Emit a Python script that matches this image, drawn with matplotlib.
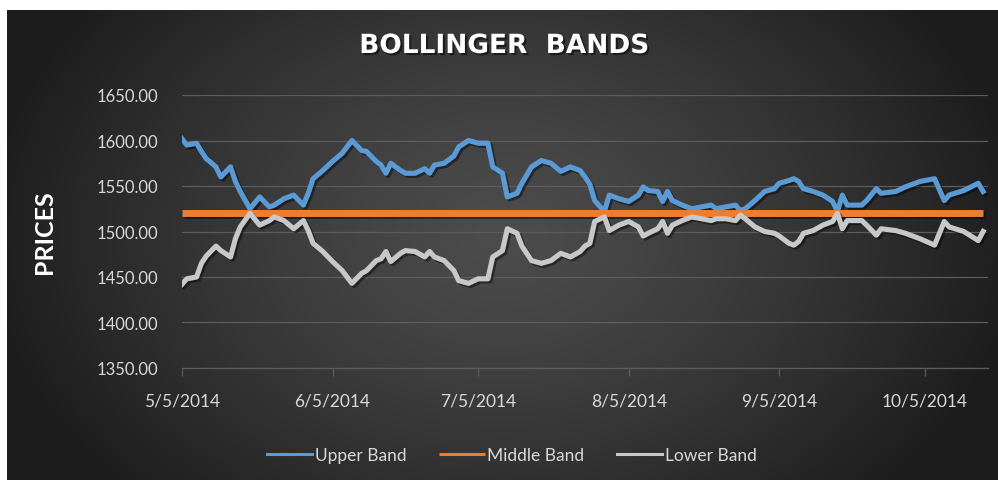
import numpy as np
import matplotlib
matplotlib.use("Agg")
import matplotlib.pyplot as plt
import matplotlib.patheffects as pe
import pandas as pd

plt.rcParams['font.family'] = ['Lato', 'DejaVu Sans']

dates = ["2014-05-05", "2014-05-06", "2014-05-08", "2014-05-09", "2014-05-10", "2014-05-12",
         "2014-05-13", "2014-05-15", "2014-05-16", "2014-05-17", "2014-05-19", "2014-05-21",
         "2014-05-23", "2014-05-24", "2014-05-26", "2014-05-28", "2014-05-30", "2014-05-31",
         "2014-06-01", "2014-06-03", "2014-06-05", "2014-06-07", "2014-06-09", "2014-06-11",
         "2014-06-12", "2014-06-14", "2014-06-15", "2014-06-16", "2014-06-17", "2014-06-19",
         "2014-06-20", "2014-06-22", "2014-06-24", "2014-06-25", "2014-06-26", "2014-06-28",
         "2014-06-30", "2014-07-01", "2014-07-03", "2014-07-05", "2014-07-07", "2014-07-08",
         "2014-07-10", "2014-07-11", "2014-07-13", "2014-07-14", "2014-07-16", "2014-07-18",
         "2014-07-20", "2014-07-22", "2014-07-24", "2014-07-26", "2014-07-27", "2014-07-28",
         "2014-07-29", "2014-07-31", "2014-08-01", "2014-08-03", "2014-08-05", "2014-08-07",
         "2014-08-08", "2014-08-09", "2014-08-11", "2014-08-12", "2014-08-13", "2014-08-14",
         "2014-08-16", "2014-08-18", "2014-08-20", "2014-08-22", "2014-08-23", "2014-08-25",
         "2014-08-27", "2014-08-28", "2014-08-29", "2014-08-31", "2014-09-02", "2014-09-04",
         "2014-09-05", "2014-09-07", "2014-09-08", "2014-09-09", "2014-09-10", "2014-09-12",
         "2014-09-14", "2014-09-16", "2014-09-17", "2014-09-18", "2014-09-19", "2014-09-22",
         "2014-09-23", "2014-09-25", "2014-09-26", "2014-09-29", "2014-10-01", "2014-10-04",
         "2014-10-07", "2014-10-09", "2014-10-10", "2014-10-13", "2014-10-16", "2014-10-17"]

upper_band = [1602, 1595, 1597, 1588, 1580, 1571,
              1560, 1571, 1555, 1544, 1525, 1538,
              1527, 1529, 1536, 1540, 1529, 1542,
              1558, 1567, 1577, 1586, 1600, 1589,
              1588, 1577, 1573, 1564, 1575, 1567,
              1564, 1564, 1569, 1564, 1573, 1575,
              1583, 1593, 1600, 1597, 1597, 1571,
              1564, 1538, 1542, 1553, 1571, 1578,
              1575, 1566, 1571, 1567, 1560, 1552,
              1534, 1522, 1540, 1536, 1533, 1540,
              1549, 1545, 1544, 1533, 1544, 1534,
              1529, 1525, 1527, 1529, 1525, 1527,
              1529, 1523, 1525, 1534, 1544, 1547,
              1553, 1556, 1558, 1555, 1547, 1544,
              1540, 1533, 1522, 1540, 1529, 1529,
              1534, 1547, 1542, 1544, 1549, 1555,
              1558, 1534, 1540, 1545, 1553, 1544]

lower_band = [1442, 1448, 1450, 1465, 1473, 1484,
              1479, 1472, 1492, 1505, 1520, 1507,
              1512, 1516, 1512, 1503, 1512, 1501,
              1487, 1478, 1467, 1457, 1443, 1454,
              1457, 1468, 1470, 1478, 1467, 1476,
              1479, 1478, 1472, 1478, 1472, 1468,
              1457, 1446, 1443, 1448, 1448, 1472,
              1479, 1503, 1498, 1484, 1468, 1465,
              1468, 1476, 1472, 1478, 1484, 1487,
              1511, 1516, 1501, 1507, 1511, 1505,
              1495, 1498, 1503, 1511, 1498, 1507,
              1512, 1516, 1514, 1512, 1514, 1514,
              1512, 1518, 1514, 1505, 1500, 1498,
              1495, 1487, 1485, 1489, 1498, 1501,
              1507, 1511, 1520, 1503, 1512, 1512,
              1507, 1496, 1503, 1501, 1498, 1492,
              1485, 1511, 1505, 1500, 1490, 1500]

middle_value = 1520.0
middle_band = [middle_value] * len(dates)

series_names = ["Upper Band", "Middle Band", "Lower Band"]
series_colors = ["#5B9BD5", "#ED7D31", "#C8C8C8"]

y_ticks = [1350, 1400, 1450, 1500, 1550, 1600, 1650]
x_tick_dates = ["2014-05-05", "2014-06-05", "2014-07-05", "2014-08-05", "2014-09-05", "2014-10-05"]
x_tick_labels = ["5/5/2014", "6/5/2014", "7/5/2014", "8/5/2014", "9/5/2014", "10/5/2014"]

W, H = 998, 481
fig = plt.figure(figsize=(W / 100, H / 100), dpi=100)
fig.patch.set_facecolor("white")

# background gradient panel
bx0, by_top = 7, 11
bg = fig.add_axes([bx0 / W, 0, 1 - bx0 / W, 1 - by_top / H])
bg.axis("off")
gx = np.linspace(-1, 1, 400)
gy = np.linspace(-1, 1, 200)
GX, GY = np.meshgrid(gx, gy)
r = np.sqrt(((GX - 0.0) / 1.05) ** 2 + ((GY + 0.05) / 1.6) ** 2)
r = np.clip(r, 0, 1)
c_center = np.array([0x4c, 0x4c, 0x4c]) / 255
c_edge = np.array([0x1d, 0x1d, 0x1d]) / 255
t = r ** 1.3
img = c_center[None, None, :] * (1 - t[..., None]) + c_edge[None, None, :] * t[..., None]
bg.imshow(img, aspect="auto", extent=[0, 1, 0, 1], interpolation="bilinear")
bg.set_xlim(0, 1)
bg.set_ylim(0, 1)

ax = fig.add_axes([182 / W, 1 - 369 / H, (988 - 182) / W, (369 - 96) / H])
ax.set_facecolor("none")

x = pd.to_datetime(dates)
shadow = [pe.SimpleLineShadow(offset=(1.5, -1.5), shadow_color="black", alpha=0.45), pe.Normal()]
ax.plot(x, upper_band, color=series_colors[0], lw=3.7, label=series_names[0],
        solid_joinstyle="round", path_effects=shadow, zorder=3)
ax.plot(x, middle_band, color=series_colors[1], lw=5.0, label=series_names[1],
        solid_capstyle="butt", path_effects=shadow, zorder=3)
ax.plot(x, lower_band, color=series_colors[2], lw=3.7, label=series_names[2],
        solid_joinstyle="round", path_effects=shadow, zorder=3)

ax.set_ylim(1350, 1650)
ax.set_yticks(y_ticks)
ax.set_yticklabels([f"{v:.2f}" for v in y_ticks])
ax.set_xlim(pd.Timestamp("2014-05-05"), pd.Timestamp("2014-10-18"))
ax.set_xticks(pd.to_datetime(x_tick_dates))
ax.set_xticklabels(x_tick_labels)

ax.grid(axis="y", color="#5c5c5c", lw=0.9)
ax.set_axisbelow(True)
for s in ["top", "right", "left"]:
    ax.spines[s].set_visible(False)
ax.spines["bottom"].set_color("#5c5c5c")
ax.spines["bottom"].set_linewidth(0.9)
ax.tick_params(axis="y", length=0, pad=17, labelsize=12, labelcolor="#d9d9d9")
ax.tick_params(axis="x", length=6, width=0.9, color="#5c5c5c", direction="out", pad=12,
               labelsize=12.5, labelcolor="#d9d9d9")

fig.text(504 / W, 1 - 47 / H, "BOLLINGER  BANDS", ha="center", va="center",
         fontsize=19, fontweight="bold", color="white", family=["DejaVu Sans"],
         path_effects=[pe.withSimplePatchShadow(offset=(1.5, -1.5), shadow_rgbFace="black", alpha=0.5)])
fig.text(45 / W, 1 - 232 / H, "PRICES", ha="center", va="center", rotation=90,
         fontsize=18, fontweight="bold", color="white")

leg = fig.legend(loc="center", bbox_to_anchor=(512 / W, 1 - 456 / H), ncol=3, frameon=False,
                 fontsize=12.5, labelcolor="#d9d9d9", handlelength=2.6, handletextpad=0.15,
                 columnspacing=1.9)
for h in leg.legend_handles:
    h.set_linewidth(2.2)
    h.set_path_effects([])

fig.savefig("out.png", dpi=100)
